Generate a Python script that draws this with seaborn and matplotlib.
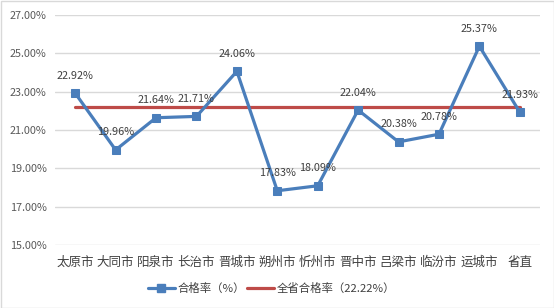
import matplotlib
matplotlib.use("Agg")
import matplotlib.pyplot as plt
import seaborn as sns
import pandas as pd
from matplotlib.lines import Line2D

cities = ["太原市", "大同市", "阳泉市", "长治市", "晋城市", "朔州市", "忻州市", "晋中市", "吕梁市", "临汾市", "运城市", "省直"]
rates = [22.92, 19.96, 21.64, 21.71, 24.06, 17.83, 18.09, 22.04, 20.38, 20.78, 25.37, 21.93]
province_rate = 22.22
yticks = [15, 17, 19, 21, 23, 25, 27]

sns.set_theme(style="white")
plt.rcParams['font.family'] = ['Noto Sans CJK SC', 'DejaVu Sans']

blue = "#4A7EBB"
red = "#BE4B48"
grey = "#595959"

fig = plt.figure(figsize=(5.54, 3.08), dpi=100)
fig.patches.append(matplotlib.patches.Rectangle((0.5/554, 0.5/308), 1 - 1/554, 1 - 1/308,
                   transform=fig.transFigure, fill=False, edgecolor="#D9D9D9", lw=1))
ax = fig.add_axes([55/554, 1 - 245/308, 485/554, (245 - 15)/308])

df = pd.DataFrame({"x": range(len(cities)), "rate": rates, "prov": [province_rate] * len(cities)})

for y in yticks:
    ax.axhline(y, color="#D9D9D9", lw=1, zorder=0)

sns.lineplot(data=df, x="x", y="prov", ax=ax, color=red, lw=2.3, zorder=2)
sns.lineplot(data=df, x="x", y="rate", ax=ax, color=blue, lw=2.3, marker="s",
             markersize=6, markeredgecolor=blue, zorder=3)

for i, v in enumerate(rates):
    ax.annotate(f"{v:.2f}%", (i, v), xytext=(0, 9), textcoords="offset points",
                ha="center", va="bottom", fontsize=7.8, color="#404040")

ax.set_xlim(-0.5, len(cities) - 0.5)
ax.set_ylim(15, 27)
ax.set_yticks(yticks)
ax.set_yticklabels([f"{y:.2f}%" for y in yticks], fontsize=7.8, color=grey)
ax.set_xticks(range(len(cities)))
ax.set_xticklabels(cities, fontsize=9, color="#404040")
ax.tick_params(axis="y", length=0, pad=6)
ax.tick_params(axis="x", length=0, pad=8)
ax.set_xlabel("")
ax.set_ylabel("")
for s in ax.spines.values():
    s.set_visible(False)

handles = [Line2D([], [], color=blue, lw=2.3, marker="s", markersize=6),
           Line2D([], [], color=red, lw=2.3)]
labels = ["合格率（%）", f"全省合格率（{province_rate:.2f}%）"]
fig.legend(handles, labels, loc="center", bbox_to_anchor=(0.49, 1 - 288/308), ncol=2,
           frameon=False, fontsize=8.2, handlelength=2.4, columnspacing=0.2,
           handletextpad=0.2, labelcolor="#404040")

fig.savefig("out.png", dpi=100)
